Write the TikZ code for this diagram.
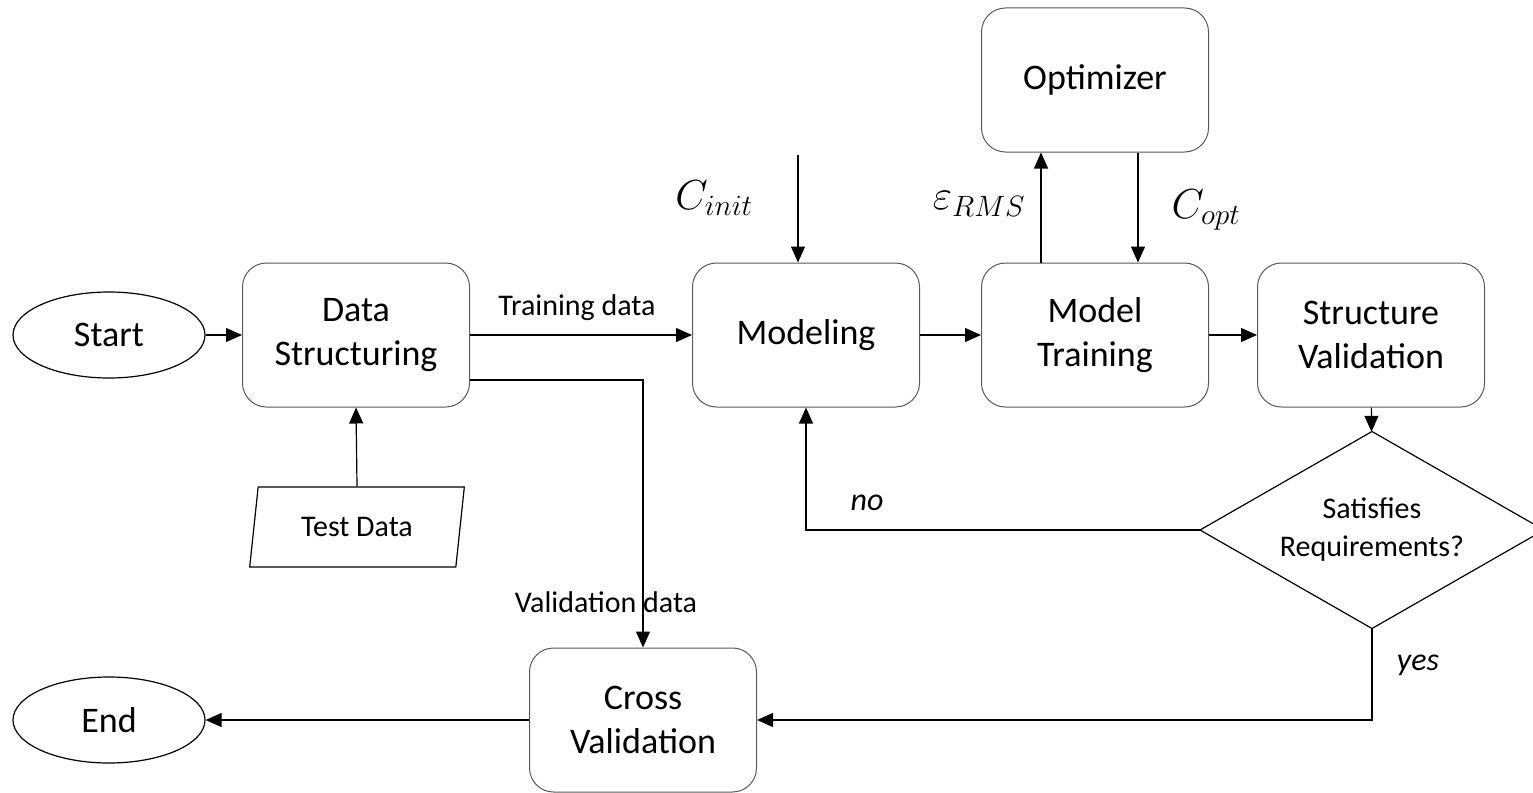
\RequirePackage{fix-cm}
\documentclass[tikz,border=0pt]{standalone}
\usepackage{fontspec}
\setmainfont{Carlito}
\usetikzlibrary{shapes.geometric,arrows.meta}

\begin{document}
\begin{tikzpicture}
[x=1pt,y=-1pt,%
  >={Triangle[length=16pt,width=14pt]},%
  flow/.style={->,line width=1.2pt},%
  box/.style={shape=rectangle,rounded corners=24pt,draw=black!65,line width=1pt,align=center,minimum width=227pt,minimum height=144pt,font=\fontsize{36}{44}\selectfont},%
  term/.style={shape=ellipse,draw,line width=1.2pt,minimum width=192pt,minimum height=86pt,font=\fontsize{36}{44}\selectfont},%
  lbl/.style={inner sep=0pt,font=\fontsize{30}{36}\selectfont},%
  mlbl/.style={inner sep=0pt,font=\fontsize{42}{50}\selectfont}]
\useasboundingbox (0,0) rectangle (1533,792);
\node[term] (start) at (109,335) {Start};
\node[box] (datastr) at (356,335) {Data\\Structuring};
\node[shape=trapezium,trapezium left angle=79,trapezium right angle=101,trapezium stretches=true,draw,line width=1.2pt,minimum width=215pt,minimum height=80pt,font=\fontsize{30}{36}\selectfont] (testdata) at (357,527) {Test Data};
\node[box] (modeling) at (806,335) {Modeling};
\node[box] (training) at (1095,335) {Model\\Training};
\node[box] (optimizer) at (1095,80) {Optimizer};
\node[box] (structval) at (1371,335) {Structure\\Validation};
\node[shape=diamond,aspect=1.75,draw,line width=1.2pt,inner sep=0pt,outer sep=0pt,minimum width=344pt,minimum height=197pt,align=center,font=\fontsize{30}{38}\selectfont] (decision) at (1372,530) {Satisfies\\Requirements?};
\node[box] (crossval) at (643,720) {Cross\\Validation};
\node[term] (endn) at (109,720) {End};
\coordinate (cin) at (798,155);
\draw[flow] (start) -- (datastr);
\draw[flow] (datastr) -- (modeling);
\node[lbl] (trainlbl) at (577,308) {Training data};
\draw[flow] ([yshift=-45pt]datastr.east) -| (crossval.north);
\node[lbl] (vallbl) at (606,602) {Validation data};
\draw[flow] (testdata.north) -- (datastr.south);
\draw[flow] (cin) -- (cin |- modeling.north);
\node[mlbl] (cinit) at (714,198) {$C_{init}$};
\draw[flow] (modeling) -- (training);
\draw[flow] ([xshift=-54pt]training.north) -- ([xshift=-54pt]optimizer.south);
\node[mlbl] (erms) at (979,204) {$\varepsilon_{RMS}$};
\draw[flow] ([xshift=43pt]optimizer.south) -- ([xshift=43pt]training.north);
\node[mlbl] (copt) at (1206,210) {$C_{opt}$};
\draw[flow] (training) -- (structval);
\draw[flow] (structval) -- (decision);
\draw[flow] (decision.west) -| (modeling.south);
\node[lbl,font=\fontsize{32}{38}\selectfont\itshape] (nolbl) at (867,503) {no};
\draw[flow] (decision.south) |- (crossval.east);
\node[lbl,font=\fontsize{32}{38}\selectfont\itshape] (yeslbl) at (1418,665) {yes};
\draw[flow] (crossval) -- (endn);
\end{tikzpicture}
\end{document}
